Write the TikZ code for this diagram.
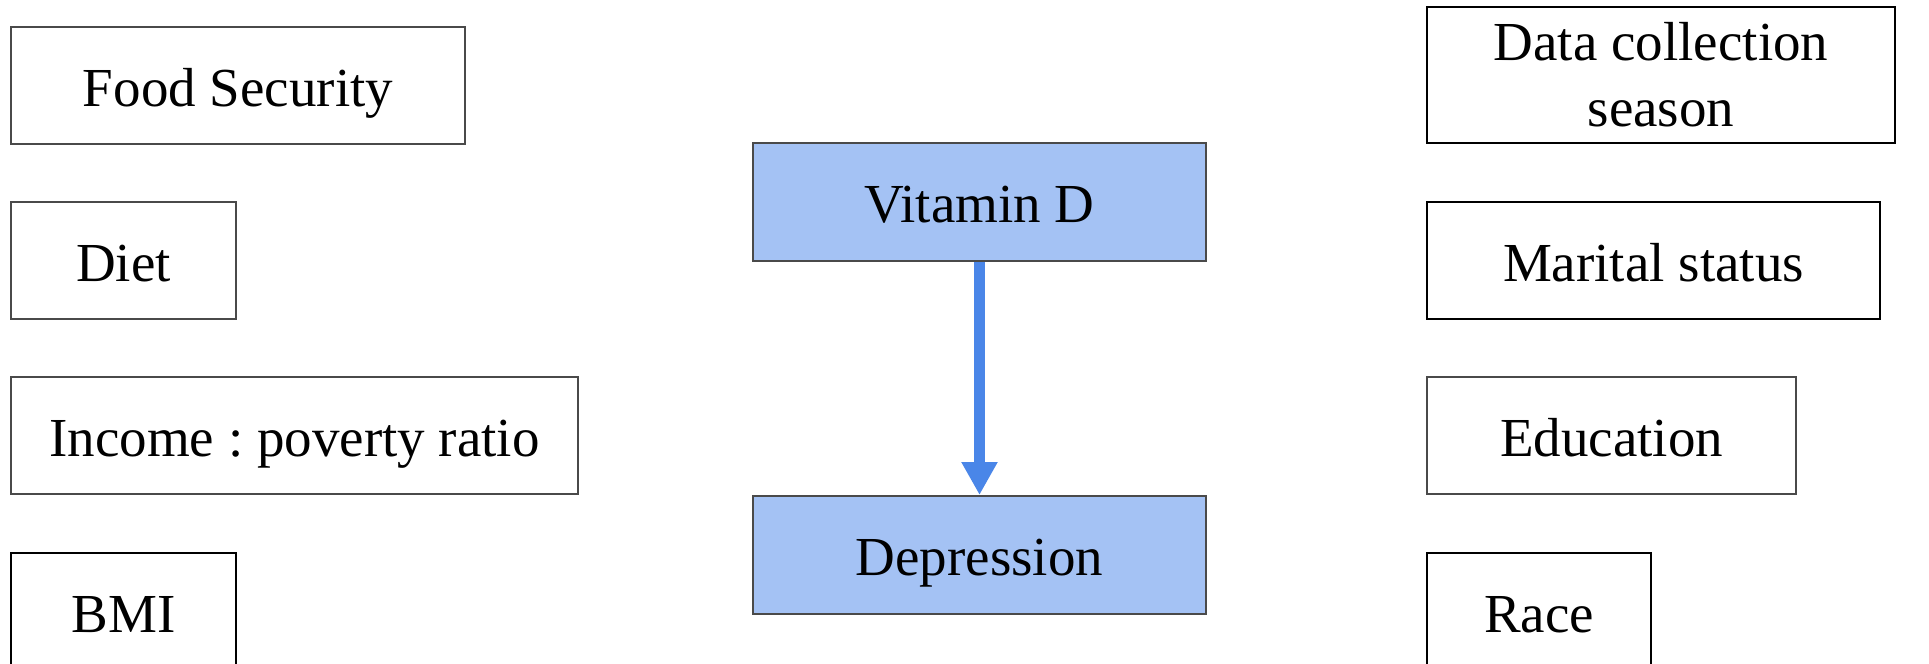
\documentclass[tikz,border=0pt]{standalone}
\usepackage{fontspec}
\setmainfont{Liberation Serif}
\usetikzlibrary{arrows.meta}
\definecolor{boxfill}{HTML}{A4C2F4}
\definecolor{arrowblue}{HTML}{4A86E8}
\definecolor{edgegray}{HTML}{4A4A4A}
\tikzset{
  plainbox/.style={rectangle, draw=edgegray, line width=1pt, inner sep=0pt, align=center,
    font=\fontsize{27.5pt}{33pt}\selectfont\frenchspacing, minimum height=58.5pt},
  base/.style={plainbox, text height=20.5pt, text depth=0pt},
  blackbox/.style={base, draw=black},
  bluebox/.style={base, fill=boxfill, minimum height=59pt},
  link/.style={draw=arrowblue, line width=5.5pt, -{Triangle[width=17pt,length=16.5pt]}}
}
\begin{document}
\begin{tikzpicture}[x=0.5pt,y=-0.5pt]
\useasboundingbox (0,0) rectangle (1929,664);
\clip (0,0) rectangle (1929,664);
\fill[white] (0,0) rectangle (1929,664);
% left column
\node[base, minimum width=227pt] (food) at (238,85.5) {Food Security};
\node[base, minimum width=112.5pt] (diet) at (123.5,260.5) {Diet};
\node[base, minimum width=283.5pt] (income) at (294.5,435.5) {Income : poverty ratio};
\node[blackbox, minimum width=112.5pt] (bmi) at (123.5,611.5) {BMI};
% centre
\node[bluebox, minimum width=226.5pt] (vitd) at (979.5,202) {Vitamin D};
\node[bluebox, minimum width=226.5pt] (dep) at (979.5,555) {Depression};
% right column
\node[plainbox, draw=black, minimum width=234pt, minimum height=68pt] (season) at (1661,75) {Data collection\\season};
\node[blackbox, minimum width=226.5pt] (marital) at (1653.5,260.5) {Marital status};
\node[base, minimum width=184.5pt] (edu) at (1611.5,435.5) {Education};
\node[blackbox, minimum width=112pt] (race) at (1539,611.5) {Race};
% arrow
\draw[link] (vitd.south) -- (dep.north);
\end{tikzpicture}
\end{document}
